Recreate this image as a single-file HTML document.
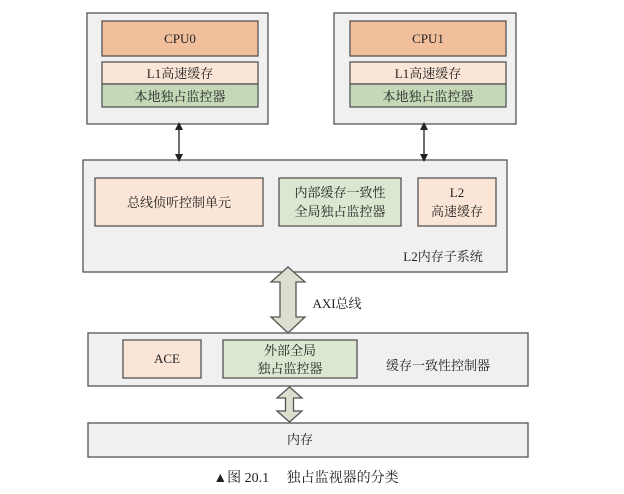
<!DOCTYPE html>
<html><head><meta charset="utf-8"><style>
body{margin:0;background:#fff;}
svg text{font-family:"Liberation Serif","Noto Serif CJK SC",serif;fill:#222;}
</style></head><body>
<svg width="624" height="489" viewBox="0 0 624 489" xmlns="http://www.w3.org/2000/svg">
<defs>
<marker id="ah" markerWidth="8" markerHeight="8" refX="4" refY="4" orient="auto-start-reverse" markerUnits="userSpaceOnUse"><path d="M0,0 L8,4 L0,8 z" fill="#222"/></marker>
</defs>
<g stroke="#555" stroke-width="1.3">
<rect x="87" y="13" width="181" height="111" fill="#f0f0f0"/>
<rect x="102" y="21" width="156" height="35" fill="#f2bf9d"/>
<rect x="102" y="62" width="156" height="22" fill="#fbe5d6"/>
<rect x="102" y="84" width="156" height="23" fill="#c5d9b8"/>
<rect x="334" y="13" width="182" height="111" fill="#f0f0f0"/>
<rect x="350" y="21" width="156" height="35" fill="#f2bf9d"/>
<rect x="350" y="62" width="156" height="22" fill="#fbe5d6"/>
<rect x="350" y="84" width="156" height="23" fill="#c5d9b8"/>
<rect x="83" y="160" width="424" height="112" fill="#f0f0f0"/>
<rect x="95" y="178" width="168" height="48" fill="#fbe5d6"/>
<rect x="279" y="178" width="122" height="48" fill="#dbe8d1"/>
<rect x="418" y="178" width="78" height="48" fill="#fbe5d6"/>
<rect x="88" y="333" width="440" height="53" fill="#f0f0f0"/>
<rect x="123" y="340" width="78" height="38" fill="#fbe5d6"/>
<rect x="223" y="340" width="134" height="38" fill="#dbe8d1"/>
<rect x="88" y="423" width="440" height="34" fill="#f0f0f0"/>
</g>
<line x1="179" y1="126" x2="179" y2="158" stroke="#222" stroke-width="1.3" marker-start="url(#ah)" marker-end="url(#ah)"/>
<line x1="424" y1="126" x2="424" y2="158" stroke="#222" stroke-width="1.3" marker-start="url(#ah)" marker-end="url(#ah)"/>
<path d="M288,267 L305,282 L296,282 L296,317 L305,317 L288,333 L271,317 L280,317 L280,282 L271,282 Z" fill="#dcdfcf" stroke="#555" stroke-width="1.3"/>
<path d="M289.5,387 L302,398 L293.5,398 L293.5,411 L302,411 L289.5,422 L277,411 L285.5,411 L285.5,398 L277,398 Z" fill="#dcdfcf" stroke="#555" stroke-width="1.3"/>
<g font-size="13" text-anchor="middle">
<text x="180" y="43">CPU0</text>
<text x="180" y="78">L1高速缓存</text>
<text x="180" y="101">本地独占监控器</text>
<text x="428" y="43">CPU1</text>
<text x="428" y="78">L1高速缓存</text>
<text x="428" y="101">本地独占监控器</text>
<text x="179" y="207">总线侦听控制单元</text>
<text x="340" y="197">内部缓存一致性</text>
<text x="340" y="216">全局独占监控器</text>
<text x="457" y="197">L2</text>
<text x="457" y="216">高速缓存</text>
<text x="443" y="261">L2内存子系统</text>
<text x="337" y="308">AXI总线</text>
<text x="167" y="363">ACE</text>
<text x="290" y="355">外部全局</text>
<text x="290" y="373">独占监控器</text>
<text x="438" y="370">缓存一致性控制器</text>
<text x="300" y="444">内存</text>
<text x="306" y="482" font-size="14">▲图 20.1　 独占监视器的分类</text>
</g>
</svg>
</body></html>
